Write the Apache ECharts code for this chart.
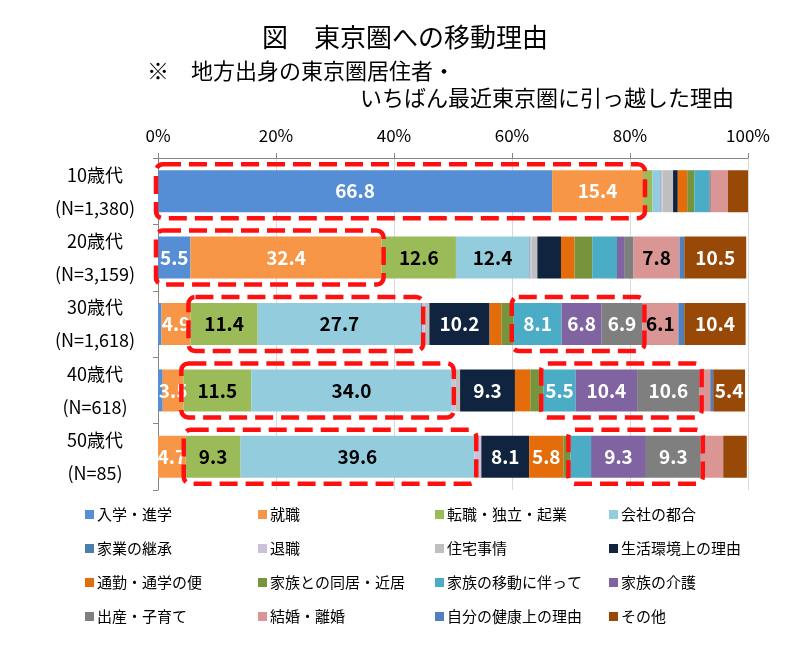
<!DOCTYPE html>
<html>
<head>
<meta charset="utf-8">
<script src="https://cdn.jsdelivr.net/npm/echarts@6/dist/echarts.min.js"></script>
<style>
html,body{margin:0;padding:0;background:#fff;}
#chart{width:800px;height:647px;}
</style>
</head>
<body>
<div id="chart"></div>
<script>
// ---- data ----
const categories = ['10歳代', '20歳代', '30歳代', '40歳代', '50歳代'];
const sampleSizes = ['(N=1,380)', '(N=3,159)', '(N=1,618)', '(N=618)', '(N=85)'];
const seriesNames = ['入学・進学', '就職', '転職・独立・起業', '会社の都合', '家業の継承', '退職', '住宅事情', '生活環境上の理由', '通勤・通学の便', '家族との同居・近居', '家族の移動に伴って', '家族の介護', '出産・子育て', '結婚・離婚', '自分の健康上の理由', 'その他'];
const v_nyugaku   = [66.8, 5.5, 0.6, 0.8, 0];
const v_shushoku  = [15.4, 32.4, 4.9, 3.5, 4.7];
const v_tenshoku  = [1.6, 12.6, 11.4, 11.5, 9.3];
const v_kaisha    = [1.3, 12.4, 27.7, 34.0, 39.6];
const v_kagyo     = [0.1, 0.1, 0.2, 0, 0];
const v_taishoku  = [0.3, 0.3, 0.4, 0.6, 1.2];
const v_jutaku    = [1.8, 1.0, 0.8, 0.8, 0];
const v_seikatsu  = [0.8, 4.0, 10.2, 9.3, 8.1];
const v_tsukin    = [1.6, 2.3, 2.0, 2.6, 5.8];
const v_dokyo     = [1.2, 3.0, 2.1, 2.2, 1.2];
const v_ido       = [2.5, 4.2, 8.1, 5.5, 3.5];
const v_kaigo     = [0.1, 1.2, 6.8, 10.4, 9.3];
const v_shussan   = [0.2, 1.6, 6.9, 10.6, 9.3];
const v_kekkon    = [2.9, 7.8, 6.1, 1.8, 3.8];
const v_kenko     = [0, 0.8, 1.0, 0.5, 0];
const v_sonota    = [3.5, 10.5, 10.4, 5.4, 4.0];
const seriesValues = [v_nyugaku, v_shushoku, v_tenshoku, v_kaisha, v_kagyo, v_taishoku, v_jutaku, v_seikatsu, v_tsukin, v_dokyo, v_ido, v_kaigo, v_shussan, v_kekkon, v_kenko, v_sonota];
// which cells carry a value label: [seriesIndex, rowIndex]
const labeledCells = [[0,0],[1,0],[0,1],[1,1],[2,1],[3,1],[13,1],[15,1],
  [1,2],[2,2],[3,2],[7,2],[10,2],[11,2],[12,2],[13,2],[15,2],
  [1,3],[2,3],[3,3],[7,3],[10,3],[11,3],[12,3],[15,3],
  [1,4],[2,4],[3,4],[7,4],[8,4],[11,4],[12,4]];
// highlighted ranges: [rowIndex, firstSeries, lastSeries]
const highlights = [[0,0,1],[1,0,1],[2,2,3],[2,10,12],[3,2,3],[3,10,12],[4,2,3],[4,10,12]];
const xTicks = [0, 20, 40, 60, 80, 100];

// ---- styles ----
const colors = ['#558ED5','#F79646','#9BBB59','#93CDDD','#4A7EAE','#CCC1DA','#BFBFBF','#10243F','#E46C0A','#77933C','#4BACC6','#8064A2','#7F7F7F','#D99694','#4F81BD','#984807'];
const darkLabel = [false,false,true,true,false,false,true,false,false,false,false,false,false,true,false,false];
const FONT = '"Noto Sans CJK JP", "Noto Sans", sans-serif';

const chart = echarts.init(document.getElementById('chart'), null, {renderer: 'canvas'});

const series = seriesNames.map((name, s) => ({
  name: name,
  type: 'bar',
  stack: 'total',
  barWidth: 42,
  itemStyle: {color: colors[s]},
  label: {
    show: false,
    position: 'inside',
    color: darkLabel[s] ? '#000' : '#fff',
    fontFamily: FONT,
    fontWeight: 'bold',
    fontSize: 19,
    formatter: p => p.value.toFixed(1)
  },
  data: seriesValues[s].map((v, r) => ({
    value: v,
    label: {show: labeledCells.some(c => c[0] === s && c[1] === r)}
  }))
}));

const colX = [85, 258, 435, 609];
const rowY = [507, 541, 575, 609];
const legends = seriesNames.map((name, i) => ({
  data: [name],
  left: colX[i % 4],
  top: rowY[Math.floor(i / 4)],
  icon: 'rect',
  itemWidth: 9,
  itemHeight: 9,
  padding: 0,
  selectedMode: false,
  textStyle: {fontFamily: FONT, fontSize: 15, color: '#000', padding: [0, 0, 0, -2]}
}));

chart.setOption({
  animation: false,
  backgroundColor: '#fff',
  title: [
    {text: '図　東京圏への移動理由', left: 262, top: 24, padding: 0,
     textStyle: {fontFamily: FONT, fontSize: 26, fontWeight: 'normal', color: '#000'}},
    {text: '※　地方出身の東京圏居住者・', left: 147, top: 60, padding: 0,
     textStyle: {fontFamily: FONT, fontSize: 22, fontWeight: 'normal', color: '#000'}},
    {text: 'いちばん最近東京圏に引っ越した理由', right: 66, top: 87, padding: 0,
     textStyle: {fontFamily: FONT, fontSize: 22, fontWeight: 'normal', color: '#000'}}
  ],
  legend: legends,
  grid: {left: 158, right: 52, top: 158, bottom: 157, containLabel: false},
  xAxis: {
    type: 'value', position: 'top', min: xTicks[0], max: xTicks[xTicks.length - 1], interval: 20,
    axisLine: {show: true, lineStyle: {color: '#868686', width: 1}},
    axisTick: {show: true, length: 5, lineStyle: {color: '#868686'}},
    axisLabel: {formatter: '{value}%', fontFamily: FONT, fontSize: 17, color: '#000', margin: 14},
    splitLine: {show: true, lineStyle: {color: '#D9D9D9', width: 1}}
  },
  yAxis: {
    type: 'category', inverse: true,
    data: categories.map((c, i) => c + '\n' + sampleSizes[i]),
    axisLine: {show: true, lineStyle: {color: '#868686'}},
    axisTick: {show: true, length: 5, lineStyle: {color: '#868686'}},
    axisLabel: {fontFamily: FONT, fontSize: 18, color: '#000', align: 'center', margin: 63, lineHeight: 33}
  },
  series: series
});

// dashed highlight boxes positioned from the data through the chart's scales
function cumulative(row, upto) {
  let s = 0;
  for (let k = 0; k < upto; k++) s += seriesValues[k][row];
  return s;
}
const half = 21, padY = 6, padX = 2;
const boxes = highlights.map(h => {
  const [row, a, b] = h;
  const p0 = chart.convertToPixel({gridIndex: 0}, [cumulative(row, a), row]);
  const p1 = chart.convertToPixel({gridIndex: 0}, [cumulative(row, b + 1), row]);
  return {
    type: 'rect', z: 100,
    shape: {x: p0[0] - padX, y: p0[1] - half - padY, width: p1[0] - p0[0] + 2 * padX, height: 2 * (half + padY), r: 7},
    style: {fill: 'none', stroke: '#FF1010', lineWidth: 4.5, lineDash: [18, 8]}
  };
});
chart.setOption({graphic: boxes});
</script>
</body>
</html>
